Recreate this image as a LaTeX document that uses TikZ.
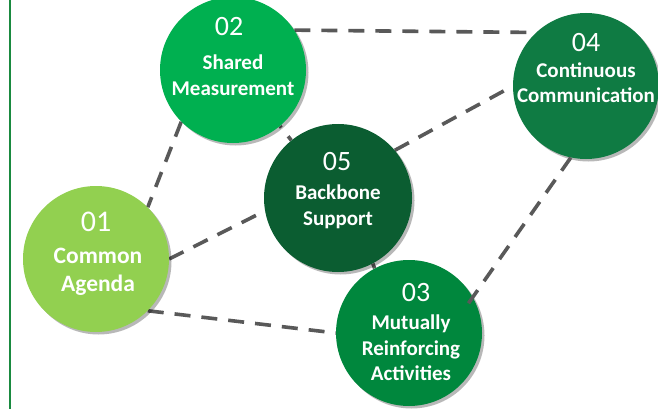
\documentclass[tikz,border=0pt]{standalone}
\usepackage{fontspec}
\setmainfont{Carlito}
\usetikzlibrary{shadows,calc}
\definecolor{cA}{HTML}{92D050}
\definecolor{cB}{HTML}{00B050}
\definecolor{cC}{HTML}{00873D}
\definecolor{cD}{HTML}{0F7B43}
\definecolor{cE}{HTML}{0B5D31}
\definecolor{lineG}{HTML}{595959}
\definecolor{edgeG}{HTML}{1A8A40}
\tikzset{
  circ/.style={circle, minimum size=146pt, inner sep=0pt, draw=none,
    drop shadow={shadow xshift=2.5pt, shadow yshift=-2.5pt, opacity=0.28, fill=black}},
  conn/.style={draw=lineG, line width=3.6pt, dash pattern=on 16pt off 11pt},
  numtxt/.style={text=white, font=\fontsize{28}{30}\selectfont, inner sep=0pt},
  labtxt/.style={text=white, font=\bfseries\fontsize{21}{26}\selectfont, align=center, inner sep=0pt},
}
\begin{document}
\begin{tikzpicture}[x=1pt,y=-1pt]
\useasboundingbox (0,0) rectangle (658,409);
\fill[white] (0,0) rectangle (658,409);
\coordinate (ltop) at (9.5,0);
\coordinate (lbot) at (9.5,409);
\draw[edgeG, line width=2pt] (ltop) -- (lbot);
% circle placeholders for anchors
\path (233,70) node[circle, minimum size=146pt, inner sep=0pt] (c02) {};
\path (586,86) node[circle, minimum size=146pt, inner sep=0pt] (c04) {};
\path (96,259) node[circle, minimum size=146pt, inner sep=0pt] (c01) {};
\path (338,198) node[circle, minimum size=148pt, inner sep=0pt] (c05) {};
\path (409,333) node[circle, minimum size=146pt, inner sep=0pt] (c03) {};
% connectors behind
\draw[conn] (c02.33) -- (c04.133);
\draw[conn] (c02.225) -- (c01.45);
\draw[conn, dash phase=14pt] (c02.-50) -- (c05.129);
\draw[conn] (c01.0) -- (c05.190);
\draw[conn] (c01.-45) -- (c03.180);
\draw[conn] (c05.40) -- (c04.180);
\draw[conn] (c05.-62) -- (c03.118);
% circles
\node[circ, fill=cB] (k02) at (c02) {};
\node[circ, fill=cD] (k04) at (c04) {};
\node[circ, fill=cA] (k01) at (c01) {};
\node[circ, fill=cE, minimum size=148pt] (k05) at (c05) {};
\node[circ, fill=cC] (k03) at (c03) {};
% connector on top
\draw[conn] (c04.258) -- ($(c03.center)!0.84!(c03.24)$);
% texts
\node[numtxt] (n02) at (229,27) {02};
\node[labtxt] (t02) at (233,75) {Shared\\Measurement};
\node[numtxt] (n04) at (586,43) {04};
\node[labtxt, font=\bfseries\fontsize{21}{25}\selectfont] (t04) at (586,82.5) {Continuous\\Communication};
\node[numtxt, font=\fontsize{30}{32}\selectfont] (n01) at (96,222) {01};
\node[labtxt, font=\bfseries\fontsize{23.5}{28}\selectfont] (t01) at (98,272) {Common\\Agenda};
\node[numtxt] (n05) at (337,162) {05};
\node[labtxt] (t05) at (338,207) {Backbone\\Support};
\node[numtxt] (n03) at (416,293) {03};
\node[labtxt, font=\bfseries\fontsize{21}{25.5}\selectfont] (t03) at (411,348) {Mutually\\Reinforcing\\Activities};
\end{tikzpicture}
\end{document}
